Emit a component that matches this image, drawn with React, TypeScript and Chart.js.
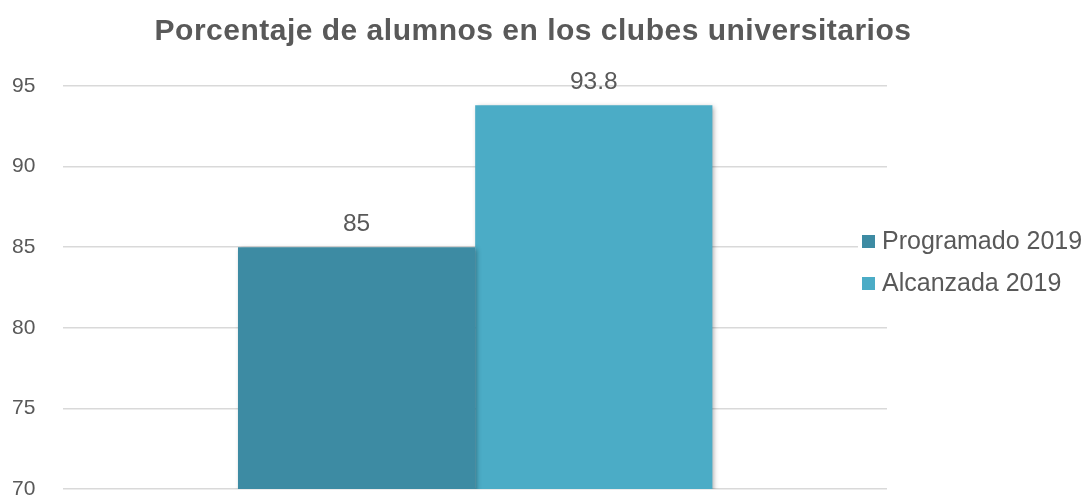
import React, { useEffect, useRef } from 'react';
import { Chart, registerables } from 'chart.js';

Chart.register(...registerables);

const TITLE = 'Porcentaje de alumnos en los clubes universitarios';
const categories = [''];
const seriesNames = ['Programado 2019', 'Alcanzada 2019'];
const programado = [85];
const alcanzada = [93.8];
const seriesColors = ['#3D8BA3', '#4BACC6'];
const yMin = 70;
const yMax = 95;
const yStep = 5;

const TEXT = '#595959';
const FONT = '"Liberation Sans", Arial, sans-serif';

const shadowPlugin = {
  id: 'barShadow',
  beforeDatasetsDraw(chart: any) {
    const ctx = chart.ctx;
    ctx.save();
    ctx.shadowColor = 'rgba(0,0,0,0.35)';
    ctx.shadowBlur = 5;
    ctx.shadowOffsetX = 2;
    ctx.shadowOffsetY = 2;
  },
  afterDatasetsDraw(chart: any) {
    chart.ctx.restore();
    const ctx = chart.ctx;
    ctx.save();
    ctx.font = `24.5px ${FONT}`;
    ctx.fillStyle = TEXT;
    ctx.textAlign = 'center';
    ctx.textBaseline = 'alphabetic';
    chart.data.datasets.forEach((ds: any, i: number) => {
      const meta = chart.getDatasetMeta(i);
      meta.data.forEach((bar: any, j: number) => {
        ctx.fillText(String(ds.data[j]), bar.x, bar.y - 16);
      });
    });
    ctx.restore();
  },
};

const titleLegendPlugin = {
  id: 'titleLegend',
  afterDraw(chart: any) {
    const ctx = chart.ctx;
    ctx.save();
    // title
    ctx.font = `bold 30px ${FONT}`;
    ctx.fillStyle = TEXT;
    ctx.textAlign = 'center';
    ctx.textBaseline = 'alphabetic';
    (ctx as any).letterSpacing = '0.5px';
    ctx.fillText(TITLE, 533, 40);
    (ctx as any).letterSpacing = '0px';
    // legend
    ctx.fillStyle = '#FFFFFF';
    ctx.fillRect(858, 222, 232, 80);
    ctx.font = `25px ${FONT}`;
    ctx.textAlign = 'left';
    ctx.textBaseline = 'middle';
    chart.data.datasets.forEach((ds: any, i: number) => {
      const cy = 241 + i * 42;
      ctx.fillStyle = ds.backgroundColor;
      ctx.fillRect(862, cy - 6, 13, 13);
      ctx.fillStyle = TEXT;
      ctx.fillText(ds.label, 882, cy + 1);
    });
    ctx.restore();
  },
};

export default function App() {
  const ref = useRef<HTMLCanvasElement | null>(null);
  useEffect(() => {
    if (!ref.current) return;
    const chart = new Chart(ref.current, {
      type: 'bar',
      data: {
        labels: categories,
        datasets: [
          { label: seriesNames[0], data: programado, backgroundColor: seriesColors[0] },
          { label: seriesNames[1], data: alcanzada, backgroundColor: seriesColors[1] },
        ],
      },
      options: {
        animation: false,
        responsive: true,
        maintainAspectRatio: false,
        layout: { padding: { left: 12, right: 203, top: 86, bottom: 0 } },
        datasets: { bar: { categoryPercentage: 0.576, barPercentage: 1 } },
        plugins: {
          legend: { display: false },
          title: { display: false },
          tooltip: { enabled: false },
        },
        scales: {
          x: { display: false, grid: { display: false } },
          y: {
            min: yMin,
            max: yMax,
            border: { display: false },
            grid: { color: '#D9D9D9', lineWidth: 1.5, drawTicks: true, tickLength: 28, tickColor: 'rgba(0,0,0,0)' },
            ticks: {
              stepSize: yStep,
              padding: 0,
              color: TEXT,
              font: { family: FONT, size: 21, lineHeight: 0.85 },
            },
          },
        },
      } as any,
      plugins: [shadowPlugin, titleLegendPlugin],
    });
    return () => chart.destroy();
  }, []);
  return (
    <div style={{ position: 'fixed', left: 0, top: 0, width: 1090, height: 498, background: '#fff' }}>
      <canvas ref={ref} />
    </div>
  );
}
